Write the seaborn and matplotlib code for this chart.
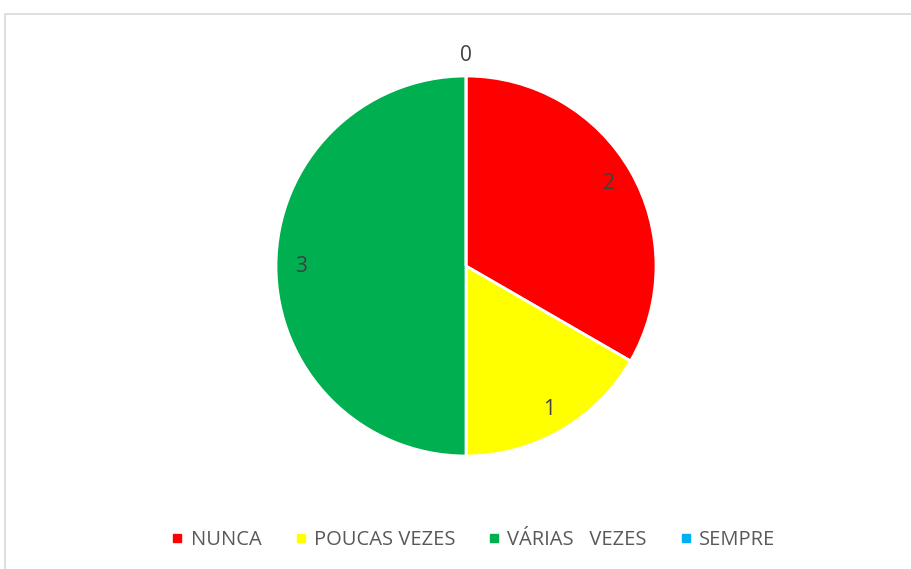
import matplotlib
matplotlib.use("Agg")
import matplotlib.pyplot as plt
from matplotlib.patches import Rectangle
from matplotlib.lines import Line2D
import numpy as np
import seaborn as sns

categories = ["NUNCA", "POUCAS VEZES", "VÁRIAS   VEZES", "SEMPRE"]
values = [2, 1, 3, 0]
colors = ["#FF0000", "#FFFF00", "#00B050", "#00B0F0"]

sns.set_theme(style="white")
plt.rcParams["font.family"] = ["Open Sans", "DejaVu Sans"]

fig = plt.figure(figsize=(9.11, 5.69), dpi=100)
fig.patch.set_facecolor("white")

# chart area border (cut off at right/bottom like the original)
fig.patches.append(Rectangle((5 / 911, -0.05), 1.2, 1 - 14 / 569 + 0.05,
                             transform=fig.transFigure, fill=False,
                             edgecolor="#D9D9D9", linewidth=1.2))

ax = fig.add_axes([276 / 911, 113 / 569, 380 / 911, 380 / 569])
wedges, _ = ax.pie(values, colors=colors, startangle=90, counterclock=False,
                   radius=1, wedgeprops=dict(edgecolor="white", linewidth=2))
ax.set_xlim(-1, 1)
ax.set_ylim(-1, 1)
ax.set_aspect("auto")
ax.axis("off")

# data labels
total = sum(values)
start = 90.0
for v in values:
    span = 360.0 * v / total
    mid = np.deg2rad(start - span / 2)
    r = 0.87 if v > 0 else 1.11
    ax.text(r * np.cos(mid), r * np.sin(mid), str(v), ha="center", va="center",
            fontsize=15, color="#404040", clip_on=False)
    start -= span

handles = [Line2D([0], [0], marker="s", linestyle="", markersize=6,
                  markerfacecolor=c, markeredgecolor=c) for c in colors]
fig.legend(handles, categories, loc="center", bbox_to_anchor=(474 / 911, 29 / 569),
           ncol=4, frameon=False, fontsize=14.5, labelcolor="#595959",
           handlelength=0.5, handletextpad=0.4, columnspacing=1.7)

fig.savefig("out.png", dpi=100)
